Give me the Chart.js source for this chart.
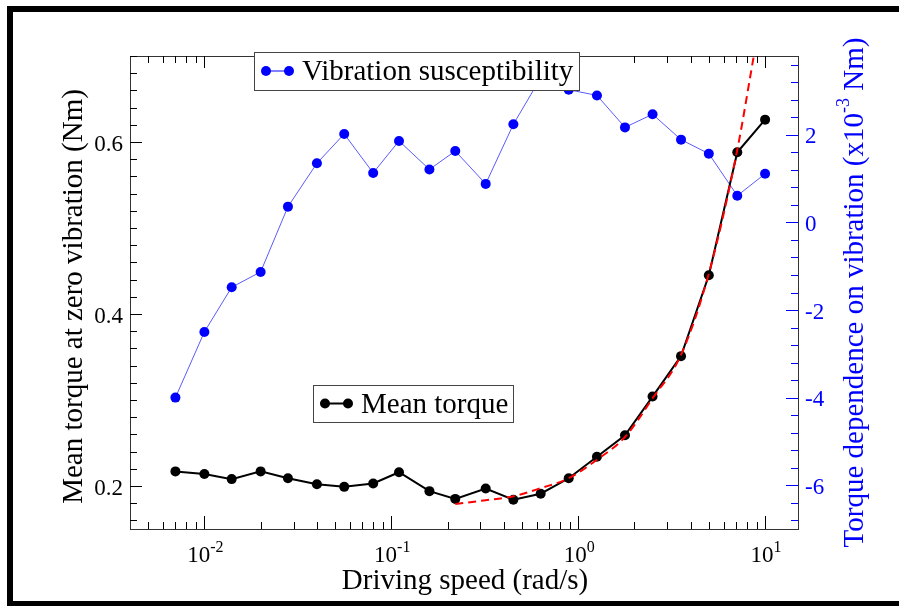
<!DOCTYPE html>
<html>
<head>
<meta charset="utf-8">
<script src="https://cdn.jsdelivr.net/npm/chart.js@4"></script>
<style>
  html, body { margin: 0; padding: 0; background: #fff; overflow: hidden; }
  #wrap { width: 899px; height: 606px; overflow: hidden; }
  canvas { display: block; }
</style>
</head>
<body>
<div id="wrap"><canvas id="torqueChart" width="899" height="606"></canvas></div>
<script>
// driving speed (rad/s), shared by both measured series
const speeds = [0.007, 0.01, 0.014, 0.02, 0.028, 0.04, 0.056, 0.08, 0.11, 0.16, 0.22,
                0.32, 0.45, 0.63, 0.89, 1.26, 1.78, 2.5, 3.55, 5.0, 7.1, 10];

// mean torque at zero vibration (Nm), left axis
const meanTorque = [0.217, 0.214, 0.208, 0.217, 0.209, 0.202, 0.199, 0.203, 0.216, 0.194, 0.185,
                    0.197, 0.184, 0.191, 0.209, 0.234, 0.259, 0.304, 0.351, 0.445, 0.588, 0.626];

// vibration susceptibility (x10^-3 Nm), right axis
const susceptibility = [-4.0, -2.5, -1.48, -1.13, 0.36, 1.35, 2.02, 1.13, 1.86, 1.21, 1.63,
                        0.88, 2.24, 3.3, 3.03, 2.9, 2.17, 2.47, 1.89, 1.57, 0.61, 1.11];

// red dashed fit through the mean torque
const fitSpeeds = [0.22, 0.32, 0.45, 0.63, 0.89, 1.26, 1.78, 2.5, 3.55, 5.0, 7.1, 8.7];
const fitTorque = [0.179, 0.1835, 0.188, 0.1975, 0.209, 0.2305, 0.257, 0.302, 0.3525, 0.447, 0.591, 0.70];

// tick labels
const xTicks = [0.01, 0.1, 1, 10];
const xTickLabels = [["10", "-2"], ["10", "-1"], ["10", "0"], ["10", "1"]];
const leftTicks = [0.2, 0.4, 0.6];
const leftTickLabels = ["0.2", "0.4", "0.6"];
const rightTicks = [-6, -4, -2, 0, 2];
const rightTickLabels = ["-6", "-4", "-2", "0", "2"];

const SERIF = '"Liberation Serif", "Times New Roman", serif';
const BLUE = "#0000ff";
const TITLE_FONT = "29px " + SERIF;

const toXY = (xs, ys) => xs.map((x, i) => ({ x, y: ys[i] }));

// ── axes, ticks, titles, legends and frame (xmgrace style, ticks inward) ──
const axesPlugin = {
  id: "xmAxes",
  afterDraw(chart) {
    const ctx = chart.ctx;
    const a = chart.chartArea;
    const sx = chart.scales.x, sy = chart.scales.y, sr = chart.scales.y2;
    ctx.save();

    // outer frame (left, top, bottom)
    ctx.fillStyle = "#000";
    ctx.fillRect(7, 6, 6, 600);
    ctx.fillRect(7, 6, 892, 6);
    ctx.fillRect(7, 601, 892, 5);

    // plot box
    ctx.strokeStyle = "#333";
    ctx.lineWidth = 1;
    ctx.strokeRect(Math.round(a.left) + 0.5, Math.round(a.top) + 0.5,
                   Math.round(a.right - a.left), Math.round(a.bottom - a.top));

    const hLine = (x0, x1, y) => { ctx.beginPath(); ctx.moveTo(x0, y); ctx.lineTo(x1, y); ctx.stroke(); };
    const vLine = (x, y0, y1) => { ctx.beginPath(); ctx.moveTo(x, y0); ctx.lineTo(x, y1); ctx.stroke(); };

    // x ticks, bottom and top
    ctx.strokeStyle = "#000";
    for (let d = 0.001; d < 100; d *= 10) {
      for (let m = 1; m < 10; m++) {
        const v = d * m;
        if (v <= sx.min || v >= sx.max) continue;
        const px = Math.round(sx.getPixelForValue(v)) + 0.5;
        const major = m === 1;
        vLine(px, a.bottom, a.bottom - (major ? 13 : 7));
        vLine(px, a.top, a.top + (major ? 12 : 7));
      }
    }
    // left ticks every 0.02
    for (let k = 8; k <= 35; k++) {
      const v = k * 0.02;
      const py = Math.round(sy.getPixelForValue(v)) + 0.5;
      const major = k % 10 === 0;
      hLine(a.left, a.left + (major ? 12 : 7), py);
    }
    // right ticks every 0.4, blue
    ctx.strokeStyle = BLUE;
    for (let k = -17; k <= 9; k++) {
      const v = k * 0.4;
      const py = Math.round(sr.getPixelForValue(v)) + 0.5;
      const major = k % 5 === 0;
      hLine(a.right - (major ? 12 : 7), a.right, py);
    }

    // x tick labels with superscript exponent
    ctx.fillStyle = "#000";
    ctx.textBaseline = "alphabetic";
    xTicks.forEach((v, i) => {
      const [base, exp] = xTickLabels[i];
      ctx.font = "23px " + SERIF;
      const wb = ctx.measureText(base).width;
      ctx.font = "16px " + SERIF;
      const we = ctx.measureText(exp).width;
      const x0 = sx.getPixelForValue(v) - (wb + we) / 2 + 1;
      ctx.font = "23px " + SERIF;
      ctx.textAlign = "left";
      ctx.fillText(base, x0, 562);
      ctx.font = "16px " + SERIF;
      ctx.fillText(exp, x0 + wb, 552);
    });

    // left tick labels
    ctx.font = "23px " + SERIF;
    ctx.textAlign = "right";
    leftTicks.forEach((v, i) => {
      ctx.fillText(leftTickLabels[i], a.left - 7, sy.getPixelForValue(v) + 8.5);
    });

    // right tick labels
    ctx.fillStyle = BLUE;
    ctx.textAlign = "left";
    rightTicks.forEach((v, i) => {
      ctx.fillText(rightTickLabels[i], a.right + 7, sr.getPixelForValue(v) + 8.5);
    });

    // axis titles
    const midY = (a.top + a.bottom) / 2;
    ctx.fillStyle = "#000";
    ctx.font = TITLE_FONT;
    ctx.textAlign = "center";
    ctx.fillText("Driving speed (rad/s)", (a.left + a.right) / 2 + 1, 589);

    ctx.save();
    ctx.translate(82, midY + 4);
    ctx.rotate(-Math.PI / 2);
    ctx.fillText("Mean torque at zero vibration (Nm)", 0, 0);
    ctx.restore();

    // right title with superscript -3
    ctx.save();
    ctx.fillStyle = BLUE;
    ctx.translate(863, midY);
    ctx.rotate(-Math.PI / 2);
    const t1 = "Torque dependence on vibration (x10", t2 = "-3", t3 = " Nm)";
    ctx.font = TITLE_FONT;
    const w1 = ctx.measureText(t1).width, w3 = ctx.measureText(t3).width;
    ctx.font = "18px " + SERIF;
    const w2 = ctx.measureText(t2).width;
    let tx = -(w1 + w2 + w3) / 2;
    ctx.textAlign = "left";
    ctx.font = TITLE_FONT;
    ctx.fillText(t1, tx, 0);
    ctx.font = "18px " + SERIF;
    ctx.fillText(t2, tx + w1, -14);
    ctx.font = TITLE_FONT;
    ctx.fillText(t3, tx + w1 + w2, 0);
    ctx.restore();

    // legend boxes
    const legend = (bx, by, bw, bh, color, lineW, label, textX) => {
      ctx.fillStyle = "#fff";
      ctx.fillRect(bx, by, bw, bh);
      ctx.strokeStyle = "#444";
      ctx.lineWidth = 1;
      ctx.strokeRect(bx + 0.5, by + 0.5, bw, bh);
      const ly = by + bh / 2;
      const x0 = bx + 12, x1 = bx + 35;
      ctx.strokeStyle = color;
      ctx.lineWidth = lineW;
      ctx.beginPath(); ctx.moveTo(x0, ly); ctx.lineTo(x1, ly); ctx.stroke();
      ctx.fillStyle = color;
      [x0, x1].forEach(x => { ctx.beginPath(); ctx.arc(x, ly, 5, 0, Math.PI * 2); ctx.fill(); });
      ctx.fillStyle = "#000";
      ctx.font = TITLE_FONT;
      ctx.textAlign = "left";
      ctx.fillText(label, textX, ly + 9);
    };
    legend(254, 52, 325, 38, BLUE, 1, "Vibration susceptibility", 302);
    legend(313, 385, 200, 37, "#000", 2, "Mean torque", 361);

    ctx.restore();
  }
};

new Chart(document.getElementById("torqueChart"), {
  type: "line",
  data: {
    datasets: [
      {
        label: "Fit",
        data: toXY(fitSpeeds, fitTorque),
        yAxisID: "y",
        borderColor: "#ff0000",
        borderWidth: 2,
        borderDash: [8, 5],
        pointRadius: 0,
        cubicInterpolationMode: "monotone",
        order: 0
      },
      {
        label: "Mean torque",
        data: toXY(speeds, meanTorque),
        yAxisID: "y",
        borderColor: "#000",
        backgroundColor: "#000",
        borderWidth: 2,
        pointRadius: 5,
        pointBorderWidth: 0,
        order: 1
      },
      {
        label: "Vibration susceptibility",
        data: toXY(speeds, susceptibility),
        yAxisID: "y2",
        borderColor: "#5a5aff",
        backgroundColor: BLUE,
        borderWidth: 1,
        pointRadius: 5,
        pointBorderWidth: 0,
        order: 2
      }
    ]
  },
  options: {
    responsive: false,
    animation: false,
    devicePixelRatio: 1,
    layout: { padding: { left: 130, top: 56, right: 101, bottom: 77 } },
    plugins: { legend: { display: false }, tooltip: { enabled: false } },
    scales: {
      x: { type: "logarithmic", min: 0.004, max: 15, display: false },
      y: { type: "linear", min: 0.15, max: 0.7, display: false },
      y2: { type: "linear", position: "right", min: -7, max: 3.8, display: false }
    }
  },
  plugins: [axesPlugin]
});
</script>
</body>
</html>
